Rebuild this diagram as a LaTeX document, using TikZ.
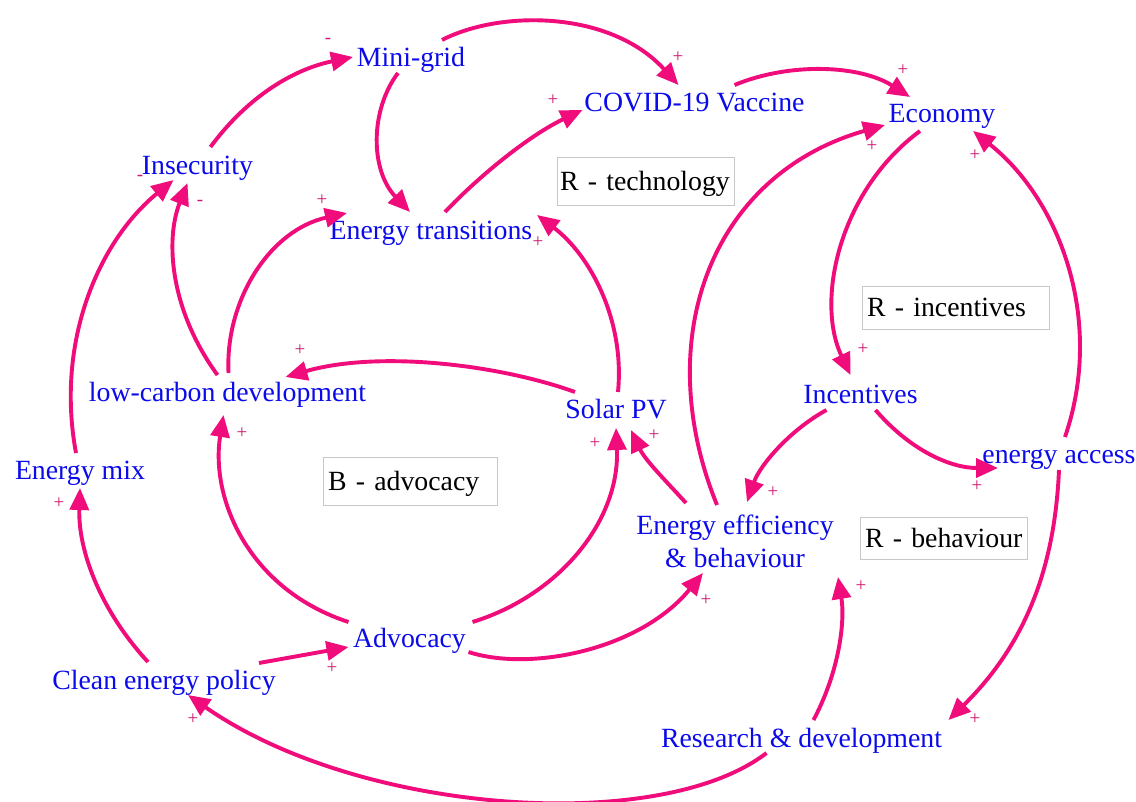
\documentclass[tikz,border=0pt]{standalone}
\usepackage{fontspec}
\setmainfont{Liberation Serif}
\usetikzlibrary{arrows.meta}
\definecolor{varblue}{RGB}{10,10,235}
\definecolor{linkpink}{RGB}{240,12,122}
\definecolor{signpink}{RGB}{205,25,115}
\definecolor{boxgray}{RGB}{200,200,200}
\tikzset{
  var/.style={text=varblue, font=\fontsize{27.8}{33}\selectfont, inner sep=0pt,
    text height=19pt, text depth=5pt},
  multivar/.style={text=varblue, font=\fontsize{27.8}{33}\selectfont, inner sep=0pt,
    align=center},
  loopbox/.style={draw=boxgray, line width=0.8pt, fill=white, text=black,
    font=\fontsize{27.8}{33}\selectfont, inner ysep=0pt, align=left,
    text height=18.3pt, text depth=0pt},
  link/.style={draw=linkpink, line width=3.9pt, -{Triangle[length=22pt,width=19pt]}},
  sign/.style={text=signpink, font=\fontsize{19}{19}\selectfont, inner sep=0pt},
}
\begin{document}
\begin{tikzpicture}[x=1pt, y=-1pt]
\useasboundingbox (0,0) rectangle (1136,802);
\fill[white] (0,0) rectangle (1136,802);

% loop labels
\node[loopbox, inner xsep=3pt, text width=171pt, minimum height=48pt] (ltech) at (645.5,181) {R - technology};
\node[loopbox, inner xsep=5pt, text width=177pt, minimum height=43pt] (linc) at (955.5,307.5) {R - incentives};
\node[loopbox, inner xsep=5pt, text width=164pt, minimum height=48pt] (ladv) at (410,481) {B - advocacy};
\node[loopbox, inner xsep=4.5pt, text width=157.5pt, minimum height=42pt] (lbeh) at (943.75,538) {R - behaviour};

% variables
\node[var] (mg)  at (411,60)    {Mini-grid};
\node[var] (cv)  at (694.5,105) {COVID-19 Vaccine};
\node[var] (ec)  at (942,116)   {Economy};
\node[var] (ins) at (197.5,168) {Insecurity};
\node[var] (et)  at (431,233)   {Energy transitions};
\node[var] (lc)  at (227.5,395) {low-carbon development};
\node[var] (pv)  at (616,412)   {Solar PV};
\node[var] (inc) at (860.5,396) {Incentives};
\node[var] (mix) at (80,472)    {Energy mix};
\node[var] (ea)  at (1059,456)  {energy access};
\node[multivar] (ee) at (735,541) {Energy efficiency\\\& behaviour};
\node[var] (adv) at (409.5,640) {Advocacy};
\node[var] (cep) at (164,682)   {Clean energy policy};
\node[var] (rd)  at (801.5,740) {Research \& development};

% causal links
\draw[link] ([shift={(13,-21)}]ins.center) .. controls (245,100) and (290,70) .. ([shift={(-58,-3)}]mg.center);
\draw[link] ([shift={(-13,13)}]mg.center) .. controls (370,110) and (370,170) .. ([shift={(-21,-21)}]et.center);
\draw[link] ([shift={(31,-20)}]mg.center) .. controls (500,10) and (610,10) .. ([shift={(-16,-20)}]cv.center);
\draw[link] ([shift={(14,-21)}]et.center) .. controls (480,175) and (530,135) .. ([shift={(-112,5)}]cv.center);
\draw[link] ([shift={(40,-20)}]cv.center) .. controls (790,62) and (860,65) .. ([shift={(-32,-19)}]ec.center);
\draw[link] ([shift={(-18,-36)}]ee.center) .. controls (650,340) and (710,175) .. ([shift={(-57,9)}]ec.center);
\draw[link] ([shift={(-22,15)}]ec.center) .. controls (840,190) and (815,300) .. ([shift={(-10,-21)}]inc.center);
\draw[link] ([shift={(6,-19)}]ea.center) .. controls (1105,320) and (1060,200) .. ([shift={(31,15)}]ec.center);
\draw[link] ([shift={(-34,14)}]inc.center) .. controls (790,430) and (760,465) .. ([shift={(12,-39)}]ee.center);
\draw[link] ([shift={(15,14)}]inc.center) .. controls (910,450) and (950,468) .. ([shift={(-61,12)}]ea.center);
\draw[link] ([shift={(0,14)}]ea.center) .. controls (1055,560) and (1030,640) .. ([shift={(147,-20)}]rd.center);
\draw[link] ([shift={(12,-20)}]rd.center) .. controls (840,670) and (845,620) .. ([shift={(103,36)}]ee.center);
\draw[link] ([shift={(-35,13)}]rd.center) .. controls (660,835) and (360,815) .. ([shift={(24,13)}]cep.center);
\draw[link] ([shift={(95,-19)}]cep.center) -- ([shift={(-61,7)}]adv.center);
\draw[link] ([shift={(-16,-20)}]cep.center) .. controls (100,610) and (78,550) .. ([shift={(0,16)}]mix.center);
\draw[link] ([shift={(-4,-19)}]mix.center) .. controls (55,340) and (100,240) .. ([shift={(-24,12)}]ins.center);
\draw[link] ([shift={(-10,-20)}]lc.center) .. controls (170,310) and (165,240) .. ([shift={(-10,15)}]ins.center);
\draw[link] ([shift={(1,-22)}]lc.center) .. controls (225,300) and (270,230) .. ([shift={(-84,-20)}]et.center);
\draw[link] ([shift={(2,-20)}]pv.center) .. controls (625,320) and (590,255) .. ([shift={(106,-18)}]et.center);
\draw[link] ([shift={(-41,-20)}]pv.center) .. controls (500,365) and (380,350) .. ([shift={(58,-18)}]lc.center);
\draw[link] ([shift={(-61,-18)}]adv.center) .. controls (250,590) and (210,500) .. ([shift={(-4,20)}]lc.center);
\draw[link] ([shift={(63,-18)}]adv.center) .. controls (560,595) and (620,520) .. ([shift={(0,16)}]pv.center);
\draw[link] ([shift={(-49,-38)}]ee.center) .. controls (665,480) and (645,460) .. ([shift={(15,18)}]pv.center);
\draw[link] ([shift={(59,12)}]adv.center) .. controls (530,672) and (640,650) .. ([shift={(-32,32)}]ee.center);

% link polarities
\node[sign] (p1)  at (328,41)  {-};
\node[sign] (p3)  at (678,57)  {+};
\node[sign] (p4)  at (553,100) {+};
\node[sign] (p5)  at (903,70)  {+};
\node[sign] (p6)  at (872,146) {+};
\node[sign] (p7)  at (863,349) {+};
\node[sign] (p8)  at (975,155) {+};
\node[sign] (p9)  at (773,492) {+};
\node[sign] (p10) at (977,486) {+};
\node[sign] (p11) at (975,719) {+};
\node[sign] (p12) at (861,586) {+};
\node[sign] (p13) at (193,719) {+};
\node[sign] (p14) at (332,668) {+};
\node[sign] (p15) at (59,503)  {+};
\node[sign] (p16) at (140,178) {-};
\node[sign] (p17) at (200,203) {-};
\node[sign] (p18) at (322,200) {+};
\node[sign] (p19) at (538,242) {+};
\node[sign] (p20) at (300,350) {+};
\node[sign] (p21) at (242,433) {+};
\node[sign] (p22) at (595,443) {+};
\node[sign] (p23) at (654,435) {+};
\node[sign] (p24) at (706,600) {+};
\end{tikzpicture}
\end{document}
